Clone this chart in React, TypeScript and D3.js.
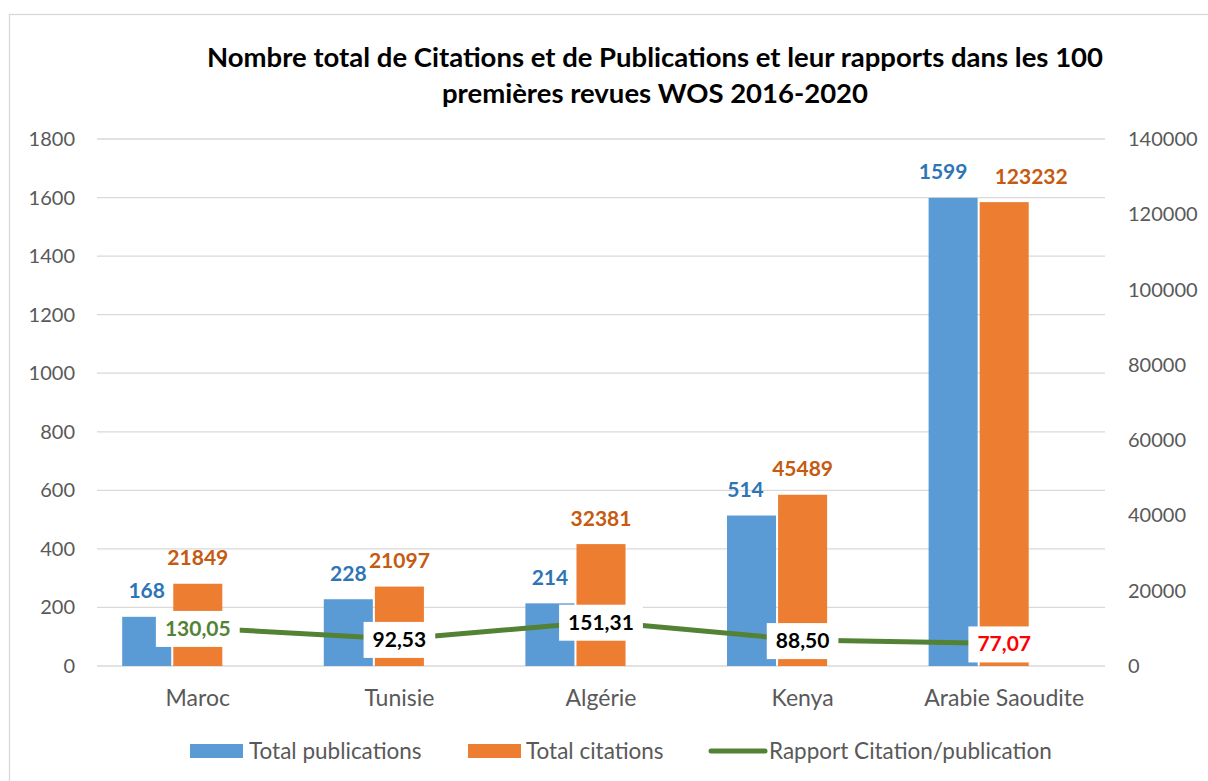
import React, { useEffect, useRef } from "react";
import * as d3 from "d3";

const categories = ["Maroc", "Tunisie", "Algérie", "Kenya", "Arabie Saoudite"];
const publications = [168, 228, 214, 514, 1599];
const citations = [21849, 21097, 32381, 45489, 123232];
const ratios = [130.05, 92.53, 151.31, 88.5, 77.07];
const leftTicks = [0, 200, 400, 600, 800, 1000, 1200, 1400, 1600, 1800];
const rightTicks = [0, 20000, 40000, 60000, 80000, 100000, 120000, 140000];
const ratioLabelColors = ["#548235", "#000000", "#000000", "#000000", "#FF0000"];
const pubLabelNudge = [0, 0, 0, -6, -10];
const citLabelNudge = [0, 0, 0, 0, 27];

const W = 1208;
const H = 781;
const FONT = "Lato, 'Open Sans', sans-serif";
const C_BLUE = "#5B9BD5";
const C_ORANGE = "#ED7D31";
const C_GREEN = "#548235";
const C_GRID = "#D9D9D9";
const C_TEXT = "#595959";

export default function App() {
  const ref = useRef<SVGSVGElement>(null);

  useEffect(() => {
    const svg = d3.select(ref.current);
    svg.selectAll("*").remove();

    const plot = { left: 97, right: 1105, top: 139, bottom: 666 };

    // outer border
    svg.append("rect").attr("x", 9.5).attr("y", 14.5).attr("width", 1220).attr("height", 800)
      .attr("fill", "#fff").attr("stroke", C_GRID).attr("stroke-width", 1.3);

    // title
    const title = svg.append("text").attr("text-anchor", "middle").attr("font-family", FONT)
      .attr("font-weight", 700).attr("font-size", 27.5).attr("fill", "#000");
    title.append("tspan").attr("x", 655).attr("y", 67).text("Nombre total de Citations et de Publications et leur rapports dans les 100");
    title.append("tspan").attr("x", 655).attr("y", 103).text("premières revues WOS 2016-2020");

    const x = d3.scaleBand<string>().domain(categories).range([plot.left, plot.right])
      .paddingInner(0.25).paddingOuter(0.125);
    const slots = ["pub", "cit", "blank"];
    const xs = d3.scaleBand<string>().domain(slots).range([0, x.bandwidth()]).paddingInner(0.04);
    const yL = d3.scaleLinear().domain([0, 1800]).range([plot.bottom, plot.top]);
    const yR = d3.scaleLinear().domain([0, 140000]).range([plot.bottom, plot.top]);

    // gridlines
    svg.append("g").selectAll("line").data(leftTicks).join("line")
      .attr("x1", plot.left).attr("x2", plot.right)
      .attr("y1", (d) => yL(d)).attr("y2", (d) => yL(d))
      .attr("stroke", C_GRID).attr("stroke-width", 1.3);

    // left axis labels
    svg.append("g").selectAll("text").data(leftTicks).join("text")
      .attr("x", 75).attr("y", (d) => yL(d) + 7).attr("text-anchor", "end")
      .attr("font-family", FONT).attr("font-size", 20).attr("fill", C_TEXT).text((d) => String(d));

    // right axis labels
    svg.append("g").selectAll("text").data(rightTicks).join("text")
      .attr("x", 1128).attr("y", (d) => yR(d) + 7).attr("text-anchor", "start")
      .attr("font-family", FONT).attr("font-size", 20).attr("fill", C_TEXT).text((d) => String(d));

    // category labels
    svg.append("g").selectAll("text").data(categories).join("text")
      .attr("x", (d) => (x(d) as number) + x.bandwidth() / 2).attr("y", 706).attr("text-anchor", "middle")
      .attr("font-family", FONT).attr("font-size", 23).attr("fill", C_TEXT).text((d) => d);

    // bars
    const pubX = (i: number) => (x(categories[i]) as number) + (xs("pub") as number);
    const citX = (i: number) => (x(categories[i]) as number) + (xs("cit") as number);
    svg.append("g").selectAll("rect").data(publications).join("rect")
      .attr("x", (_d, i) => pubX(i)).attr("width", xs.bandwidth())
      .attr("y", (d) => yL(d)).attr("height", (d) => plot.bottom - yL(d))
      .attr("fill", C_BLUE);
    svg.append("g").selectAll("rect").data(citations).join("rect")
      .attr("x", (_d, i) => citX(i)).attr("width", xs.bandwidth())
      .attr("y", (d) => yR(d)).attr("height", (d) => plot.bottom - yR(d))
      .attr("fill", C_ORANGE);

    // bar labels
    svg.append("g").selectAll("text").data(publications).join("text")
      .attr("x", (_d, i) => pubX(i) + xs.bandwidth() / 2 + pubLabelNudge[i])
      .attr("y", (d) => yL(d) - 18.5).attr("text-anchor", "middle")
      .attr("font-family", FONT).attr("font-weight", 700).attr("font-size", 21)
      .attr("fill", "#2E75B6").text((d) => String(d));
    svg.append("g").selectAll("text").data(citations).join("text")
      .attr("x", (_d, i) => citX(i) + xs.bandwidth() / 2 + citLabelNudge[i])
      .attr("y", (d) => yR(d) - 18.5).attr("text-anchor", "middle")
      .attr("font-family", FONT).attr("font-weight", 700).attr("font-size", 21)
      .attr("fill", "#C55A11").text((d) => String(d));

    // ratio line
    const cx = (i: number) => (x(categories[i]) as number) + x.bandwidth() / 2;
    const line = d3.line<number>().x((_d, i) => cx(i)).y((d) => yL(d));
    svg.append("path").datum(ratios).attr("d", line).attr("fill", "none")
      .attr("stroke", C_GREEN).attr("stroke-width", 5).attr("stroke-linejoin", "round");

    // ratio labels with white boxes
    const fmt = (v: number) => v.toFixed(2).replace(".", ",");
    const lg = svg.append("g");
    ratios.forEach((v, i) => {
      const g = lg.append("g");
      const t = g.append("text").attr("x", cx(i)).attr("y", yL(v) + 8).attr("text-anchor", "middle")
        .attr("font-family", FONT).attr("font-weight", 700).attr("font-size", 21)
        .attr("fill", ratioLabelColors[i]).text(fmt(v));
      const w = (t.node() as SVGTextElement).getComputedTextLength();
      g.insert("rect", "text").attr("x", cx(i) - w / 2 - 9).attr("y", yL(v) - 17)
        .attr("width", w + 18).attr("height", 36).attr("fill", "#fff");
    });

    // legend
    const leg = svg.append("g").attr("font-family", FONT).attr("font-size", 22.5).attr("fill", C_TEXT);
    const ly = 751;
    leg.append("rect").attr("x", 190).attr("y", ly - 7).attr("width", 53).attr("height", 14).attr("fill", C_BLUE);
    leg.append("text").attr("x", 249).attr("y", ly + 7.5).text("Total publications");
    leg.append("rect").attr("x", 468).attr("y", ly - 7).attr("width", 53).attr("height", 14).attr("fill", C_ORANGE);
    leg.append("text").attr("x", 526).attr("y", ly + 7.5).text("Total citations");
    leg.append("line").attr("x1", 711).attr("x2", 765).attr("y1", ly).attr("y2", ly)
      .attr("stroke", C_GREEN).attr("stroke-width", 5).attr("stroke-linecap", "round");
    leg.append("text").attr("x", 769).attr("y", ly + 7.5).text("Rapport Citation/publication");
  }, []);

  return (
    <svg ref={ref} width={W} height={H} style={{ position: "absolute", left: 0, top: 0, background: "#fff" }} />
  );
}
